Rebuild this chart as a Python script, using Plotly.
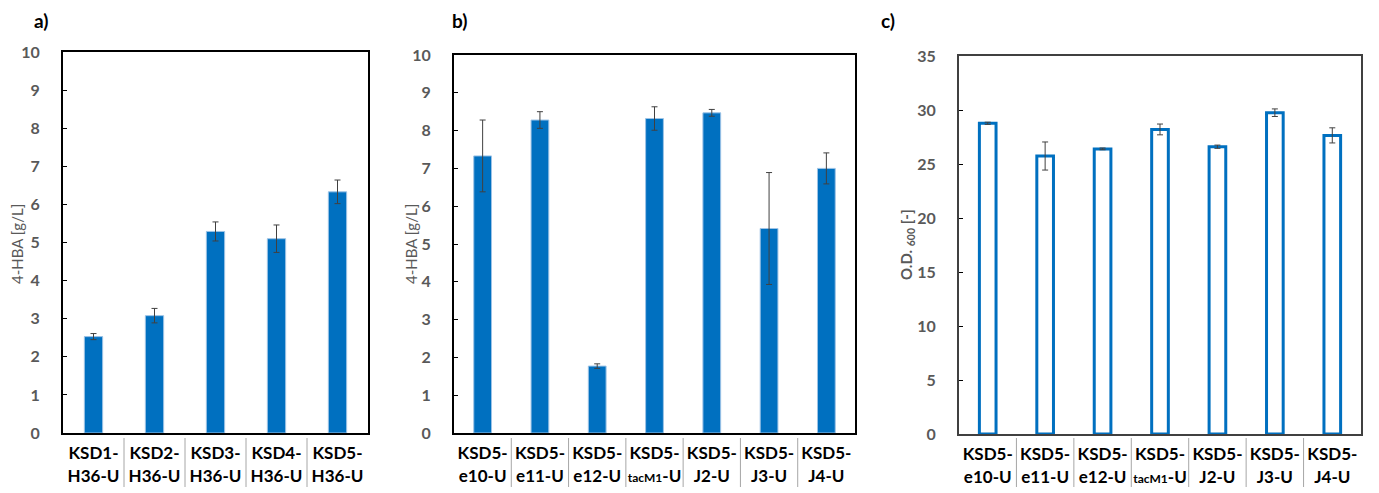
import plotly.graph_objects as go
from plotly.subplots import make_subplots

# ---- data ----
cats_a = ["KSD1-<br>H36-U", "KSD2-<br>H36-U", "KSD3-<br>H36-U", "KSD4-<br>H36-U", "KSD5-<br>H36-U"]
hba_a = [2.53, 3.08, 5.29, 5.10, 6.33]
err_a = [0.08, 0.19, 0.25, 0.36, 0.31]

cats_bc = ["KSD5-<br>e10-U", "KSD5-<br>e11-U", "KSD5-<br>e12-U",
           "KSD5-<br><span style='font-size:12px'>tacM1</span>-U",
           "KSD5-<br>J2-U", "KSD5-<br>J3-U", "KSD5-<br>J4-U"]
hba_b = [7.33, 8.28, 1.77, 8.32, 8.47, 5.41, 7.00]
err_b = [0.95, 0.22, 0.06, 0.31, 0.09, 1.48, 0.41]
od_c = [28.77, 25.74, 26.40, 28.20, 26.60, 29.75, 27.65]
err_c = [0.10, 1.30, 0.08, 0.50, 0.15, 0.35, 0.70]

panel_labels = ["a)", "b)", "c)"]
ytitles = ["4-HBA [g/L]", "4-HBA [g/L]", "<b>O.D. <sub>600</sub> [-]</b>"]

# ---- styling ----
W, H = 1379, 493
BLUE = "#0070C0"
GRAY = "#595959"
FONT = "Lato"

def px_x(v):
    return v / W

def px_y(v):
    return 1 - v / H

fig = make_subplots(rows=1, cols=3)

err_style = dict(type="data", visible=True, color="#404040", thickness=1, width=3)

fig.add_trace(go.Bar(x=cats_a, y=hba_a, width=0.3,
                     marker=dict(color=BLUE, line=dict(color="#9DC3E6", width=1)),
                     error_y=dict(array=err_a, **err_style), showlegend=False), row=1, col=1)
fig.add_trace(go.Bar(x=cats_bc, y=hba_b, width=0.31,
                     marker=dict(color=BLUE, line=dict(color="#9DC3E6", width=1)),
                     error_y=dict(array=err_b, **err_style), showlegend=False), row=1, col=2)
fig.add_trace(go.Bar(x=cats_bc, y=od_c, width=0.29,
                     marker=dict(color="white", line=dict(color=BLUE, width=3)),
                     error_y=dict(array=err_c, **err_style), showlegend=False), row=1, col=3)

domains = [((63, 368), (52, 433)), ((454, 855), (55, 433)), ((959, 1361), (56, 434))]
yranges = [(0, 10, 1), (0, 10, 1), (0, 35, 5)]
title_pos = [(17, 244), (411, 244), (907, 245)]
frame_cols = ["black", "black", "#404040"]

for i in range(3):
    (x0, x1), (yt, yb) = domains[i]
    xa = "xaxis" if i == 0 else f"xaxis{i+1}"
    ya = "yaxis" if i == 0 else f"yaxis{i+1}"
    lo, hi, dt = yranges[i]
    fig.layout[xa].update(domain=[px_x(x0), px_x(x1)], showline=True, mirror=True,
                          linecolor=frame_cols[i], linewidth=2, ticks="", showgrid=False,
                          automargin=False,
                          tickfont=dict(family=FONT, size=17, color="black", weight="bold"),
                          ticklabelstandoff=4)
    fig.layout[ya].update(domain=[px_y(yb), px_y(yt)], range=[lo, hi], dtick=dt,
                          showline=True, mirror=True, linecolor=frame_cols[i], linewidth=2,
                          ticks="inside", ticklen=4, tickcolor="black", showgrid=False,
                          zeroline=False, automargin=False,
                          tickfont=dict(family=FONT, size=16, color=GRAY, weight="bold"),
                          ticklabelstandoff=18)

# category separators under the x axes
shapes = []
for i, n in enumerate([len(cats_a), len(cats_bc), len(cats_bc)]):
    xr = "x" if i == 0 else f"x{i+1}"
    for k in range(n - 1):
        shapes.append(dict(type="line", xref=xr, yref="paper", x0=k + 0.5, x1=k + 0.5,
                           y0=px_y(487), y1=px_y(438), line=dict(color="#A6A6A6", width=1)))

annotations = []
for lab, xp in zip(panel_labels, [32, 450, 879]):
    annotations.append(dict(text=f"<b>{lab}</b>", xref="paper", yref="paper",
                            x=px_x(xp), y=px_y(20), xanchor="left", yanchor="middle",
                            showarrow=False, font=dict(family=FONT, size=19, color="black")))
for t, (tx, ty) in zip(ytitles, title_pos):
    annotations.append(dict(text=t, xref="paper", yref="paper", textangle=-90,
                            x=px_x(tx), y=px_y(ty), xanchor="center", yanchor="middle",
                            showarrow=False, font=dict(family=FONT, size=15, color=GRAY)))

fig.update_layout(width=W, height=H, margin=dict(l=0, r=0, t=0, b=0, pad=0, autoexpand=False),
                  plot_bgcolor="white", paper_bgcolor="white",
                  shapes=shapes, annotations=annotations, bargap=0.7,
                  font=dict(family=FONT))

fig.write_html("out.html", config={"displayModeBar": False},
               post_script="document.body.style.margin='0';document.body.style.overflow='hidden';")
